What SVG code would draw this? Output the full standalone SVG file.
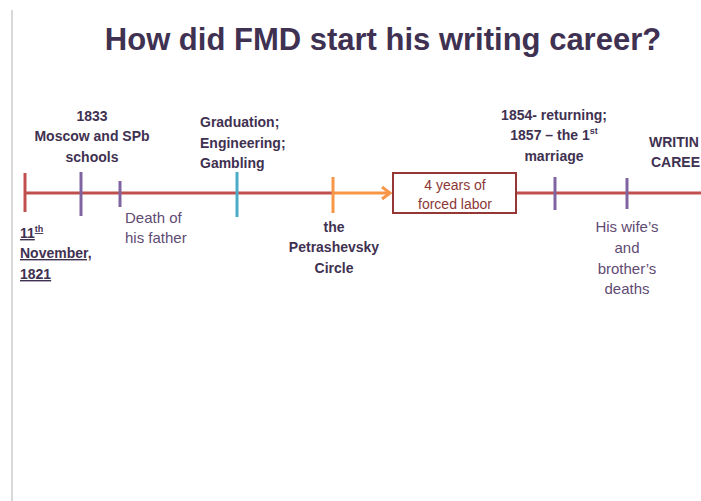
<svg xmlns="http://www.w3.org/2000/svg" width="701" height="501" viewBox="0 0 701 501">
<defs>
<style>
.t{font-family:"Liberation Sans",Arial,sans-serif;font-size:14px;font-weight:bold;fill:#3f3151}
.n{font-family:"Liberation Sans",Arial,sans-serif;font-size:15px;fill:#5f4b73}
.c{text-anchor:middle}
.tick{stroke-width:3;fill:none}
.box{font-family:"Liberation Sans",Arial,sans-serif;font-size:14px;fill:#8c3836;text-anchor:middle}
</style>
<marker id="arr" markerWidth="12" markerHeight="14" refX="10" refY="7" orient="auto" markerUnits="userSpaceOnUse">
<polyline points="2,1 10,7 2,13" fill="none" stroke="#f79646" stroke-width="3"/>
</marker>
</defs>
<rect width="701" height="501" fill="#ffffff"/>
<line x1="12" y1="10" x2="12" y2="501" stroke="#cccccc" stroke-width="1.5"/>
<text x="383" y="50" font-family="Liberation Sans,Arial,sans-serif" font-size="31" font-weight="bold" fill="#3f3151" text-anchor="middle">How did FMD start his writing career?</text>

<g id="connectors">
<line x1="25" y1="193" x2="333" y2="193" stroke="#c0504d" stroke-width="3"/>
<line x1="333" y1="193" x2="390" y2="193" stroke="#f79646" stroke-width="3" marker-end="url(#arr)"/>
<line x1="516" y1="193" x2="701" y2="193" stroke="#c0504d" stroke-width="3"/>
</g>

<g id="birth">
<line class="tick" x1="25" y1="173" x2="25" y2="212" stroke="#c0504d"/>
<text class="t" x="20" y="238" text-decoration="underline">11<tspan font-size="9" dy="-6">th</tspan></text>
<text class="t" x="20" y="258" text-decoration="underline">November,</text>
<text class="t" x="20" y="279" text-decoration="underline">1821</text>
</g>

<g id="schools">
<line class="tick" x1="81" y1="172" x2="81" y2="216" stroke="#8064a2"/>
<text class="t c" x="92" y="121">1833</text>
<text class="t c" x="92" y="141">Moscow and SPb</text>
<text class="t c" x="92" y="162">schools</text>
</g>

<g id="father">
<line class="tick" x1="120" y1="181" x2="120" y2="207" stroke="#8064a2"/>
<text class="n" x="125" y="223">Death of</text>
<text class="n" x="125" y="243">his father</text>
</g>

<g id="graduation">
<line class="tick" x1="237" y1="172" x2="237" y2="217" stroke="#4bacc6"/>
<text class="t" x="200" y="127">Graduation;</text>
<text class="t" x="200" y="148">Engineering;</text>
<text class="t" x="200" y="168">Gambling</text>
</g>

<g id="petrashevsky">
<line class="tick" x1="333" y1="177" x2="333" y2="213" stroke="#f79646"/>
<text class="t c" x="334" y="232">the</text>
<text class="t c" x="334" y="252">Petrashevsky</text>
<text class="t c" x="334" y="273">Circle</text>
</g>

<g id="forced-labor">
<rect x="393" y="173" width="123" height="40" fill="#ffffff" stroke="#953735" stroke-width="2"/>
<text class="box" x="455" y="190">4 years of</text>
<text class="box" x="455" y="209">forced labor</text>
</g>

<g id="returning">
<line class="tick" x1="555" y1="177" x2="555" y2="210" stroke="#8064a2"/>
<text class="t c" x="554" y="120">1854- returning;</text>
<text class="t c" x="554" y="140">1857 – the 1<tspan font-size="9" dy="-6">st</tspan></text>
<text class="t c" x="554" y="161">marriage</text>
</g>

<g id="deaths">
<line class="tick" x1="627" y1="178" x2="627" y2="209" stroke="#8064a2"/>
<text class="n c" x="627" y="232">His wife’s</text>
<text class="n c" x="627" y="253">and</text>
<text class="n c" x="627" y="274">brother’s</text>
<text class="n c" x="627" y="294">deaths</text>
</g>

<g id="writing-career">
<text class="t" x="649" y="147">WRITIN</text>
<text class="t" x="651" y="167">CAREE</text>
</g>
</svg>
